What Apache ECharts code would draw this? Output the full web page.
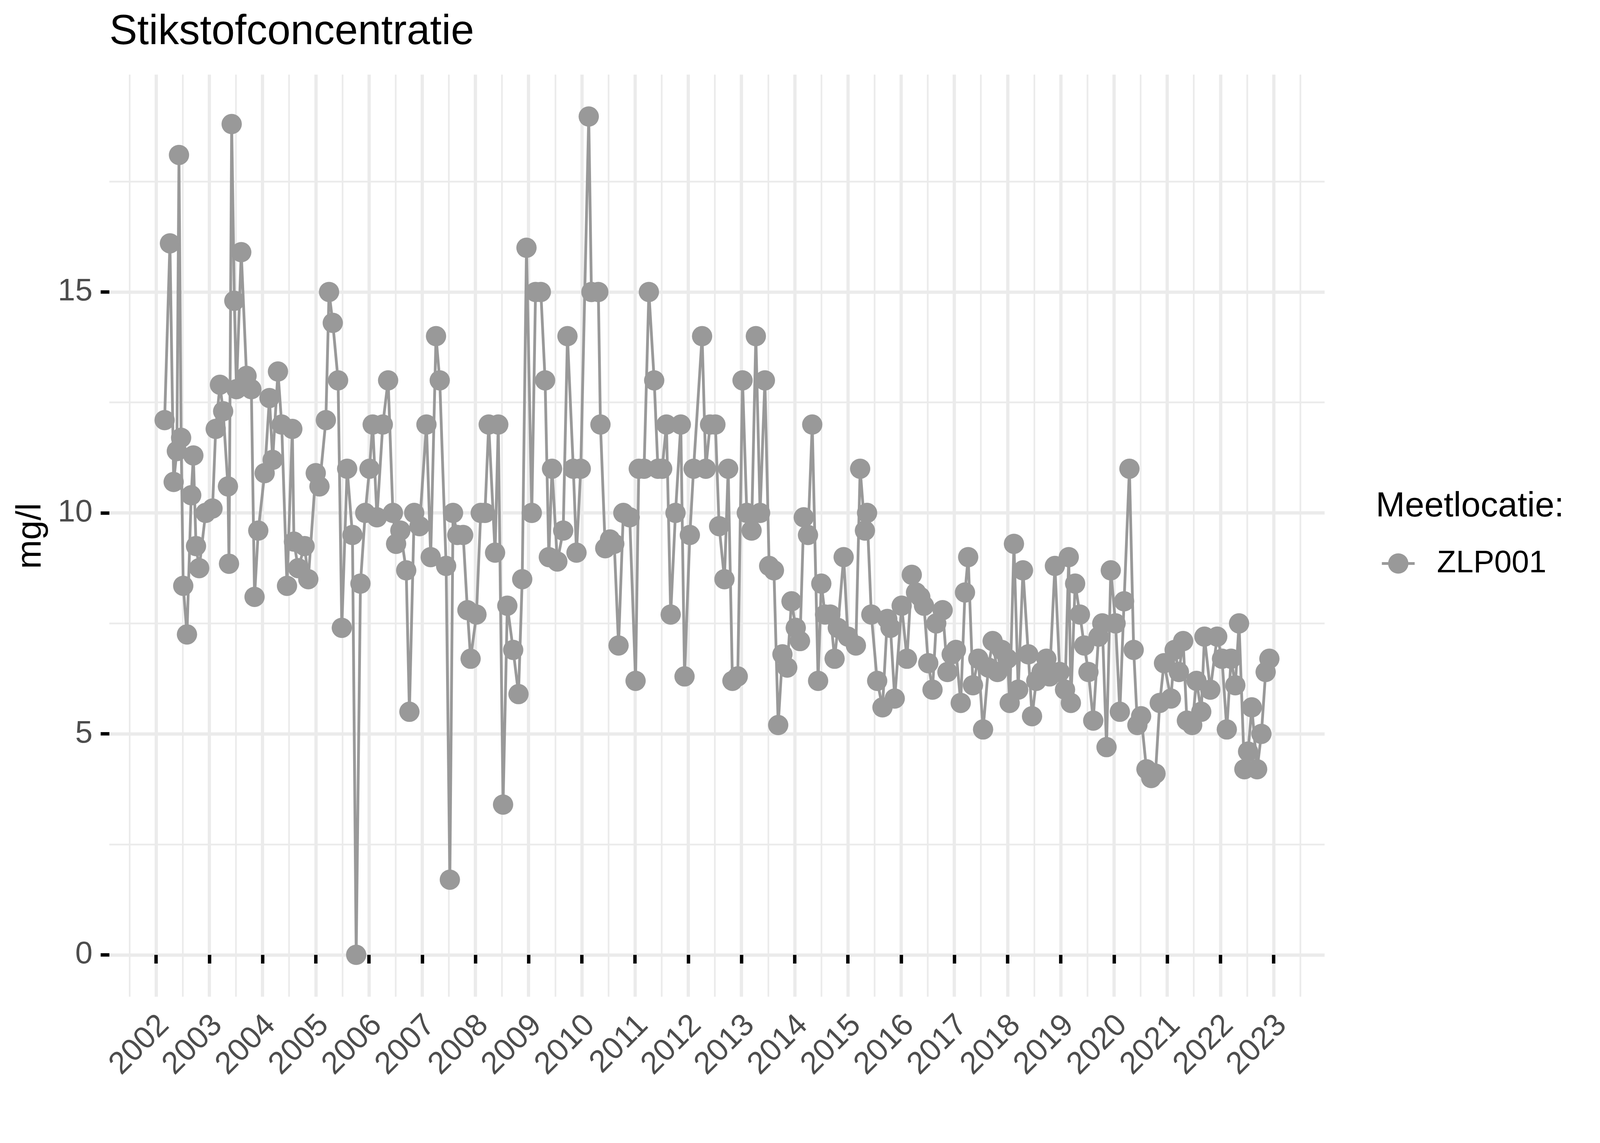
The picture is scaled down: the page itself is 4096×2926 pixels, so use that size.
<!DOCTYPE html>
<html>
<head>
<meta charset="utf-8">
<script src="https://cdn.jsdelivr.net/npm/echarts@6/dist/echarts.min.js"></script>
<style>
html,body{margin:0;padding:0;background:#ffffff;}
#chart{width:4096px;height:2926px;}
</style>
</head>
<body>
<div id="chart"></div>
<script>
const chartTitle = 'Stikstofconcentratie';
const yAxisTitle = 'mg/l';
const legendTitle = 'Meetlocatie:';
const seriesName = 'ZLP001';

// decimal year of each sample
const years = [
2002.16,2002.26,2002.33,2002.39,2002.43,2002.47,2002.51,2002.58,2002.66,2002.70,2002.75,2002.81,2002.93,
2003.06,2003.12,2003.20,2003.26,2003.35,2003.37,2003.42,2003.47,2003.51,2003.60,2003.70,2003.79,2003.85,2003.92,
2004.04,2004.13,2004.19,2004.29,2004.36,2004.46,2004.56,2004.59,2004.67,2004.79,2004.86,
2005.00,2005.07,2005.19,2005.25,2005.32,2005.42,2005.49,2005.59,2005.69,2005.76,2005.84,2005.93,
2006.01,2006.07,2006.15,2006.26,2006.36,2006.45,2006.51,2006.59,2006.70,2006.76,2006.85,2006.95,
2007.08,2007.16,2007.26,2007.33,2007.45,2007.52,2007.58,2007.66,2007.77,2007.85,2007.91,
2008.02,2008.10,2008.18,2008.25,2008.37,2008.43,2008.52,2008.60,2008.71,2008.81,2008.88,
2008.96,2009.06,2009.13,2009.23,2009.31,2009.38,2009.44,2009.54,2009.65,2009.73,2009.84,2009.90,
2009.98,2010.13,2010.18,2010.31,2010.35,2010.44,2010.53,2010.61,2010.69,2010.78,2010.90,
2011.01,2011.07,2011.17,2011.26,2011.36,2011.43,2011.51,2011.59,2011.67,2011.76,2011.86,2011.93,
2012.03,2012.10,2012.26,2012.33,2012.41,2012.51,2012.58,2012.68,2012.75,2012.83,2012.93,
2013.02,2013.10,2013.19,2013.27,2013.35,2013.44,2013.52,2013.61,2013.69,2013.77,2013.86,
2013.94,2014.02,2014.10,2014.17,2014.25,2014.33,2014.44,2014.50,2014.57,2014.67,2014.75,2014.81,2014.92,
2015.00,2015.15,2015.23,2015.32,2015.36,2015.44,2015.55,2015.65,2015.74,2015.80,2015.88,
2016.01,2016.11,2016.20,2016.28,2016.36,2016.43,2016.51,2016.59,2016.66,2016.78,2016.87,2016.95,
2017.03,2017.12,2017.20,2017.26,2017.35,2017.45,2017.54,2017.64,2017.72,2017.81,2017.89,
2018.00,2018.04,2018.12,2018.20,2018.29,2018.39,2018.46,2018.54,2018.64,2018.73,2018.79,2018.89,
2018.98,2019.08,2019.15,2019.19,2019.27,2019.36,2019.44,2019.52,2019.61,2019.71,2019.78,2019.86,
2019.94,2020.03,2020.11,2020.19,2020.29,2020.37,2020.44,2020.51,2020.61,2020.70,2020.78,2020.86,
2020.94,2021.07,2021.14,2021.22,2021.30,2021.37,2021.47,2021.55,2021.64,2021.70,2021.81,2021.94,
2022.03,2022.12,2022.20,2022.28,2022.35,2022.45,2022.52,2022.59,2022.69,2022.77,2022.85,2022.92
];

// concentration (mg/l)
const values = [
12.1,16.1,10.7,11.4,18.1,11.7,8.35,7.25,10.4,11.3,9.25,8.75,10.0,
10.1,11.9,12.9,12.3,10.6,8.85,18.8,14.8,12.8,15.9,13.1,12.8,8.1,9.6,
10.9,12.6,11.2,13.2,12.0,8.35,11.9,9.35,8.75,9.25,8.5,
10.9,10.6,12.1,15.0,14.3,13.0,7.4,11.0,9.5,0.0,8.4,10.0,
11.0,12.0,9.9,12.0,13.0,10.0,9.3,9.6,8.7,5.5,10.0,9.7,
12.0,9.0,14.0,13.0,8.8,1.7,10.0,9.5,9.5,7.8,6.7,
7.7,10.0,10.0,12.0,9.1,12.0,3.4,7.9,6.9,5.9,8.5,
16.0,10.0,15.0,15.0,13.0,9.0,11.0,8.9,9.6,14.0,11.0,9.1,
11.0,18.97,15.0,15.0,12.0,9.2,9.4,9.3,7.0,10.0,9.9,
6.2,11.0,11.0,15.0,13.0,11.0,11.0,12.0,7.7,10.0,12.0,6.3,
9.5,11.0,14.0,11.0,12.0,12.0,9.7,8.5,11.0,6.2,6.3,
13.0,10.0,9.6,14.0,10.0,13.0,8.8,8.7,5.2,6.8,6.5,
8.0,7.4,7.1,9.9,9.5,12.0,6.2,8.4,7.7,7.7,6.7,7.4,9.0,
7.2,7.0,11.0,9.6,10.0,7.7,6.2,5.6,7.6,7.4,5.8,
7.9,6.7,8.6,8.2,8.1,7.9,6.6,6.0,7.5,7.8,6.4,6.8,
6.9,5.7,8.2,9.0,6.1,6.7,5.1,6.5,7.1,6.4,6.9,
6.7,5.7,9.3,6.0,8.7,6.8,5.4,6.2,6.4,6.7,6.3,8.8,
6.4,6.0,9.0,5.7,8.4,7.7,7.0,6.4,5.3,7.2,7.5,4.7,
8.7,7.5,5.5,8.0,11.0,6.9,5.2,5.4,4.2,4.0,4.1,5.7,
6.6,5.8,6.9,6.4,7.1,5.3,5.2,6.2,5.5,7.2,6.0,7.2,
6.7,5.1,6.7,6.1,7.5,4.2,4.6,5.6,4.2,5.0,6.4,6.7
];

const xTickYears = [2002,2003,2004,2005,2006,2007,2008,2009,2010,2011,2012,2013,2014,2015,2016,2017,2018,2019,2020,2021,2022,2023];
const xMinorYears = [2001.5,2002.5,2003.5,2004.5,2005.5,2006.5,2007.5,2008.5,2009.5,2010.5,2011.5,2012.5,2013.5,2014.5,2015.5,2016.5,2017.5,2018.5,2019.5,2020.5,2021.5,2022.5,2023.5];
const yTicks = [0,5,10,15];
const yMinorTicks = [2.5,7.5,12.5,17.5];

const FONT = "'Liberation Sans', Arial, sans-serif";
const POINT = '#999999';
const GRID = '#EBEBEB';

// ggplot-style 5% expansion of the data ranges
const xLo = Math.min.apply(null, years), xHi = Math.max.apply(null, years);
const yLo = Math.min.apply(null, values), yHi = Math.max.apply(null, values);
const xMin = xLo - 0.05 * (xHi - xLo), xMax = xHi + 0.05 * (xHi - xLo);
const yMin = yLo - 0.05 * (yHi - yLo), yMax = yHi + 0.05 * (yHi - yLo);

const chart = echarts.init(document.getElementById('chart'), null, {renderer: 'canvas', width: 4096, height: 2926});

const gridBox = {left: 280, right: 705, top: 191, bottom: 374.4};
const TICK_FONT = 80;

const option = {
  animation: false,
  backgroundColor: '#ffffff',
  textStyle: {fontFamily: FONT},
  title: {
    text: chartTitle,
    left: 280, top: 30, padding: 0,
    textStyle: {fontFamily: FONT, fontSize: 107, lineHeight: 107, fontWeight: 'normal', color: '#000000'}
  },
  legend: {
    data: [seriesName],
    orient: 'vertical',
    left: 3534, top: 1402.5, padding: 0,
    itemWidth: 84, itemHeight: 65, itemGap: 0,
    selectedMode: false,
    lineStyle: {width: 7.1},
    textStyle: {fontFamily: FONT, fontSize: 80, color: '#000000', padding: [0, 0, 0, 52]}
  },
  grid: Object.assign({containLabel: false, outerBoundsMode: 'none'}, gridBox),
  xAxis: [
    {
      type: 'value', min: xMin, max: xMax, position: 'bottom',
      axisLine: {show: false},
      axisTick: {show: true, length: 22.3, customValues: xTickYears, lineStyle: {color: '#000000', width: 8.7}},
      axisLabel: {
        customValues: xTickYears, rotate: 45, align: 'right', verticalAlign: 'top', margin: 40,
        fontFamily: FONT, fontSize: TICK_FONT, lineHeight: Math.round(TICK_FONT * 0.74), color: '#4D4D4D', hideOverlap: false,
        formatter: function (v) { return String(Math.round(v)); }
      },
      splitLine: {show: true, lineStyle: {color: GRID, width: 8.3}},
      z: 1
    },
    {
      type: 'value', min: xMin, max: xMax, position: 'bottom', offset: 0,
      axisLine: {show: false},
      axisTick: {show: false, customValues: xMinorYears},
      axisLabel: {show: false},
      splitLine: {show: true, lineStyle: {color: GRID, width: 4.3}},
      z: 0
    }
  ],
  yAxis: [
    {
      type: 'value', min: yMin, max: yMax, position: 'left',
      axisLine: {show: false},
      axisTick: {show: true, length: 22.3, customValues: yTicks, lineStyle: {color: '#000000', width: 8.7}},
      axisLabel: {customValues: yTicks, margin: 42.9, fontFamily: FONT, fontSize: TICK_FONT, color: '#4D4D4D'},
      splitLine: {show: true, lineStyle: {color: GRID, width: 8.3}},
      z: 1
    },
    {
      type: 'value', min: yMin, max: yMax, position: 'left', offset: 0,
      axisLine: {show: false},
      axisTick: {show: false, customValues: yMinorTicks},
      axisLabel: {show: false},
      splitLine: {show: true, lineStyle: {color: GRID, width: 4.3}},
      z: 0
    }
  ],
  series: [
    {
      name: seriesName,
      type: 'line',
      xAxisIndex: 0, yAxisIndex: 0,
      data: years.map(function (t, i) { return [t, values[i]]; }),
      symbol: 'circle', symbolSize: 52, showSymbol: true, showAllSymbol: true,
      itemStyle: {color: POINT},
      lineStyle: {color: POINT, width: 7.1},
      emphasis: {disabled: true},
      clip: false,
      z: 3
    }
  ],
  graphic: [
    {
      type: 'text', x: 79.2, y: 1372, rotation: Math.PI / 2,
      style: {text: yAxisTitle, fontFamily: FONT, fontSize: 89.4, fill: '#000000', align: 'center', verticalAlign: 'middle'}
    },
    {
      type: 'text', x: 3522, y: 1297,
      style: {text: legendTitle, fontFamily: FONT, fontSize: 89.4, fill: '#000000', align: 'left', verticalAlign: 'middle'}
    }
  ]
};

chart.setOption(option);
</script>
</body>
</html>
